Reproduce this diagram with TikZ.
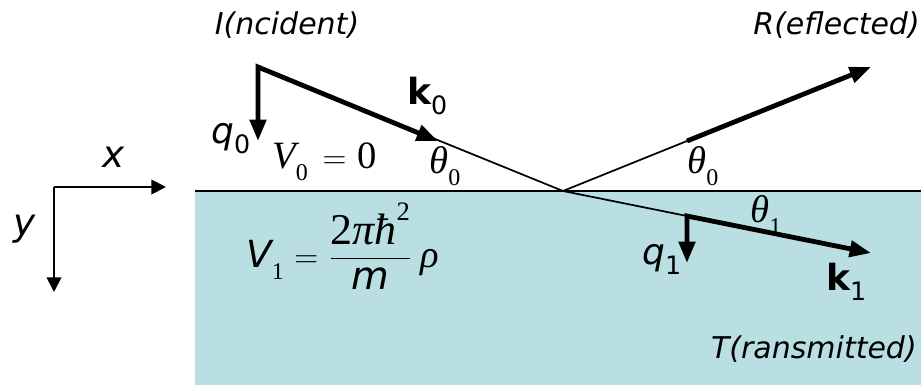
\documentclass[tikz,border=0pt]{standalone}
\usepackage{fontspec}
\usetikzlibrary{arrows.meta}
\newfontfamily\tah{DejaVu Sans}
\newfontfamily\tms{Liberation Serif}
\definecolor{sea}{RGB}{185,223,226}
\newcommand\sfsub[2]{#1\raisebox{-0.28em}{\fontsize{19}{19}\selectfont #2}}
\newcommand\tmsub[2]{#1\raisebox{-0.32em}{\fontsize{18}{18}\selectfont\upshape #2}}
\newcommand\eqsign{\fontsize{24.88}{30}\selectfont$=$}
\begin{document}
\begin{tikzpicture}[x=0.75pt,y=-0.75pt,
  thinray/.style={line width=1.3pt},
  thickray/.style={line width=3.6pt},
  bigtip/.style={-{Triangle[length=16pt,width=12pt]}},
  axis/.style={line width=1.4pt,-{Triangle[length=11pt,width=11pt]}},
  lab/.style={font=\tah\itshape\fontsize{22.5}{26}\selectfont, inner sep=0pt},
  vec/.style={font=\tah\fontsize{27}{30}\selectfont, inner sep=0pt},
  mth/.style={font=\tms\fontsize{29}{34}\selectfont, inner sep=0pt}]
\useasboundingbox (0,0) rectangle (921,385);
\fill[sea] (195,191) rectangle (921,385);
\coordinate (L) at (195,191);
\coordinate (Rt) at (921,191);
\draw[line width=1.4pt] (L) -- (Rt);
% axes
\coordinate (A) at (54,187);
\coordinate (AX) at (166,187);
\coordinate (AY) at (54,292);
\draw[axis] (A) -- (AX);
\draw[axis] (A) -- (AY);
\node[vec, font=\tah\itshape\fontsize{28}{30}\selectfont, anchor=base] (xl) at (114,167) {x};
\node[vec, font=\tah\itshape\fontsize{28}{30}\selectfont, anchor=base] (yl) at (25,235) {y};
% rays
\coordinate (O) at (563,191);
\coordinate (I) at (258,67);
\coordinate (K0) at (438,141);
\coordinate (Q0) at (258,141);
\coordinate (R0) at (687,141);
\coordinate (R1) at (871,67);
\coordinate (T0) at (687,216);
\coordinate (T1) at (871,253);
\coordinate (Q1) at (687,263);
\draw[thinray] (I) -- (O);
\draw[thinray] (O) -- (R0);
\draw[thinray] (O) -- (T0);
\draw[thickray, {Triangle[length=16pt,width=12pt]}-{Triangle[length=16pt,width=12pt]}] (Q0) -- (I) -- (K0);
\draw[thickray, bigtip] (R0) -- (R1);
\draw[thickray, {Triangle[length=16pt,width=12pt]}-{Triangle[length=16pt,width=12pt]}] (Q1) -- (T0) -- (T1);
% labels
\node[lab, anchor=base] (inc) at (287,35) {I(ncident)};
\node[lab, anchor=base east] (ref) at (920,35) {R(eflected)};
\node[lab, anchor=base east] (tra) at (917,358) {T(ransmitted)};
\node[vec, font=\tah\itshape\fontsize{27}{30}\selectfont, anchor=base west] (q0) at (211,143) {\sfsub{q}{\upshape 0}};
\node[vec, font=\tah\bfseries\fontsize{27}{30}\selectfont, anchor=base west] (k0) at (407,104) {\sfsub{k}{\mdseries 0}};
\node[vec, font=\tah\itshape\fontsize{27}{30}\selectfont, anchor=base west] (q1) at (642,264) {\sfsub{q}{\upshape 1}};
\node[vec, font=\tah\bfseries\fontsize{27}{30}\selectfont, anchor=base west] (k1) at (826,290) {\sfsub{k}{\mdseries 1}};
\node[mth, anchor=base west] (v0) at (272,168) {\tmsub{{\itshape V}}{0}\hspace{11pt}{\eqsign}\hspace{8pt}0};
\node[mth, anchor=base west] (th0) at (429,173) {\tmsub{{\itshape θ}}{0}};
\node[mth, anchor=base west] (th0r) at (687,173) {\tmsub{{\itshape θ}}{0}};
\node[mth, anchor=base west] (th1) at (750,222) {\tmsub{{\itshape θ}}{1}};
\node[mth, anchor=base west] (v1) at (246,267) {\tmsub{{\tah\itshape\fontsize{28}{30}\selectfont V}}{1}\hspace{8pt}{\eqsign}\hspace{8pt}$\displaystyle\frac{\mbox{\fontsize{33}{36}\selectfont 2\itshape πħ\raisebox{0.55em}{\fontsize{20}{20}\selectfont\upshape 2}}}{\mbox{\tah\itshape\fontsize{29}{30}\selectfont m}}$\hspace{7pt}{\itshape ρ}};
\end{tikzpicture}
\end{document}
